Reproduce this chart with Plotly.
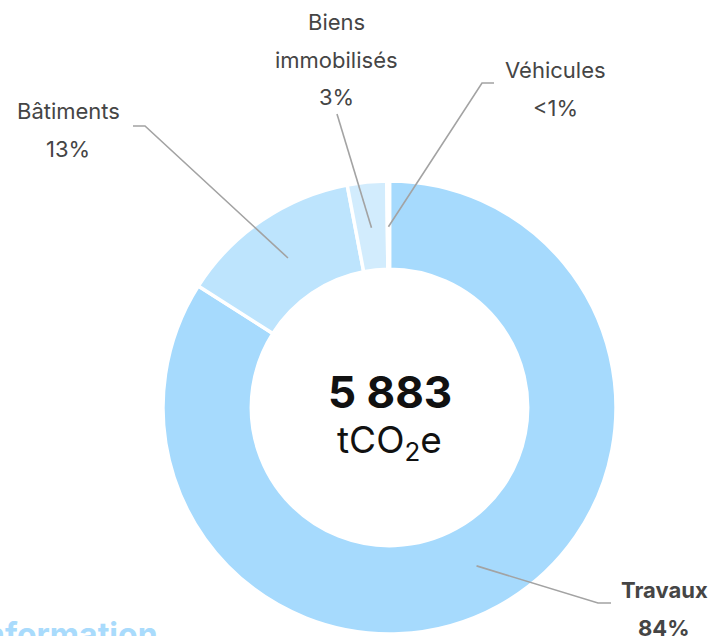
import math
import plotly.graph_objects as go

# ── Data ─────────────────────────────────────────────
categories = ["Travaux", "Bâtiments", "Biens immobilisés", "Véhicules"]
label_lines = [["Travaux"], ["Bâtiments"], ["Biens", "immobilisés"], ["Véhicules"]]
values = [4942, 765, 165, 11]  # tCO2e
colors = ["#a6dafd", "#bde4fd", "#d2ecfd", "#e6f5fe"]

W, H = 712, 636
CX, CY, R_OUT = 389.5, 407.5, 224.5
HOLE = 0.61
R_MID = R_OUT * (1 + HOLE) / 2
PAD = 2  # plotly trims the outer border a little

# label layout (pixels): elbow, line end, text centre x, first text line y, bold?
LABEL_POS = {
    "Travaux":           dict(elbow=(598, 603), end=(611, 603), tx=664, ty=590, bold=True),
    "Bâtiments":         dict(elbow=(145, 126), end=(133, 126), tx=68, ty=111, bold=False),
    "Biens immobilisés": dict(elbow=(337, 114), end=(337, 114), tx=336, ty=22, bold=False),
    "Véhicules":         dict(elbow=(482, 83), end=(494, 83), tx=555, ty=70, bold=False),
}
LINE_GAP = 37.5

FONT = "Inter, Lato, sans-serif"
TXT = "#454545"
LEADER = "#a3a3a3"


def px(x, y):
    return x / W, 1 - y / H


total = sum(values)

fig = go.Figure(go.Pie(
    labels=categories,
    values=values,
    hole=HOLE,
    sort=False,
    direction="clockwise",
    rotation=0,
    textinfo="none",
    hoverinfo="label+value+percent",
    marker=dict(colors=colors, line=dict(color="white", width=3.5)),
    domain=dict(x=[(CX - R_OUT - PAD) / W, (CX + R_OUT + PAD) / W],
                y=[1 - (CY + R_OUT + PAD) / H, 1 - (CY - R_OUT - PAD) / H]),
    showlegend=False,
))

annotations = []
shapes = []
cum = 0
for name, lines, v in zip(categories, label_lines, values):
    pct = v / total * 100
    mid = (cum + v / 2) / total * 2 * math.pi
    cum += v
    sx = CX + R_MID * math.sin(mid)
    sy = CY - R_MID * math.cos(mid)
    pos = LABEL_POS[name]
    pts = [px(sx, sy), px(*pos["elbow"]), px(*pos["end"])]
    path = "M {} {} L {} {} L {} {}".format(*[c for p in pts for c in p])
    shapes.append(dict(type="path", xref="paper", yref="paper", path=path,
                       line=dict(color=LEADER, width=1.6)))
    pct_txt = "<1%" if pct < 1 else f"{round(pct)}%"
    for i, t in enumerate(lines + [pct_txt]):
        x, y = px(pos["tx"], pos["ty"] + i * LINE_GAP)
        annotations.append(dict(
            x=x, y=y, xref="paper", yref="paper", showarrow=False,
            xanchor="center", yanchor="middle",
            text=f"<b>{t}</b>" if pos["bold"] else t,
            font=dict(family=FONT, size=22, color=TXT),
        ))

# centre total
total_txt = f"{total:,}".replace(",", " ")
x, y = px(CX, CY - 15)
annotations.append(dict(x=x, y=y, xref="paper", yref="paper", showarrow=False,
                        yanchor="middle",
                        text=f"<b>{total_txt}</b>",
                        font=dict(family=FONT, size=44, color="#111111")))
x, y = px(CX, CY + 7)
annotations.append(dict(x=x, y=y, xref="paper", yref="paper", showarrow=False,
                        yanchor="top",
                        text="tCO<sub>2</sub>e",
                        font=dict(family=FONT, size=37, color="#111111")))

# clipped heading at the bottom edge
x, y = px(160, 613)
annotations.append(dict(x=x, y=y, xref="paper", yref="paper", showarrow=False,
                        xanchor="right", yanchor="top",
                        text="<b>Information</b>",
                        font=dict(family=FONT, size=32, color="#a9dbfc")))

fig.update_layout(
    width=W, height=H,
    margin=dict(l=0, r=0, t=0, b=0),
    paper_bgcolor="white",
    plot_bgcolor="white",
    annotations=annotations,
    shapes=shapes,
)

fig.write_html("out.html", config={"displayModeBar": False},
               post_script="document.body.style.margin='0';")
